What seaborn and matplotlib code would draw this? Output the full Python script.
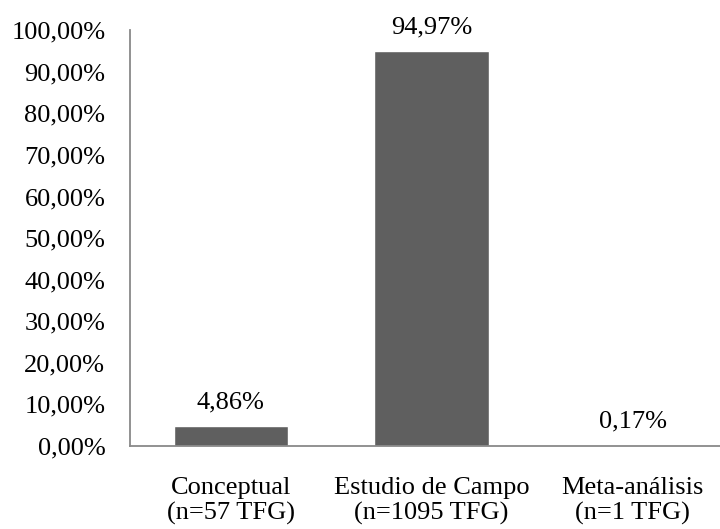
import matplotlib
matplotlib.use("Agg")
import matplotlib.pyplot as plt
import seaborn as sns
import pandas as pd

categories = ["Conceptual\n(n=57 TFG)", "Estudio de Campo\n(n=1095 TFG)", "Meta-análisis\n(n=1 TFG)"]
values = [4.86, 94.97, 0.17]
value_labels = ["4,86%", "94,97%", "0,17%"]
ytick_vals = [0, 10, 20, 30, 40, 50, 60, 70, 80, 90, 100]
ytick_labels = ["0,00%", "10,00%", "20,00%", "30,00%", "40,00%", "50,00%",
                "60,00%", "70,00%", "80,00%", "90,00%", "100,00%"]

sns.set_style("white")
plt.rcParams["font.family"] = ["Liberation Serif", "DejaVu Serif"]
plt.rcParams["text.color"] = "black"
plt.rcParams["xtick.color"] = "black"
plt.rcParams["ytick.color"] = "black"

df = pd.DataFrame({"cat": categories, "val": values})
fig = plt.figure(figsize=(7.2, 5.29), dpi=100)
ax = fig.add_axes([0.181, 0.157, 0.837, 0.786])
sns.barplot(data=df, x="cat", y="val", color="#5f5f5f", saturation=1, width=0.57, ax=ax)
ax.set_ylim(0, 100)
ax.set_yticks(ytick_vals)
ax.set_yticklabels(ytick_labels, fontsize=19)
ax.tick_params(axis="x", labelsize=19, length=0, pad=22)
ax.tick_params(axis="y", length=0, pad=18)
ax.set_xlabel("")
ax.set_ylabel("")
for s in ["top", "right"]:
    ax.spines[s].set_visible(False)
for s in ["left", "bottom"]:
    ax.spines[s].set_color("#898989")
    ax.spines[s].set_linewidth(1.3)
for i, (v, lab) in enumerate(zip(values, value_labels)):
    ax.text(i, v + 3, lab, ha="center", va="bottom", fontsize=19, color="black")
fig.savefig("out.png", dpi=100)
